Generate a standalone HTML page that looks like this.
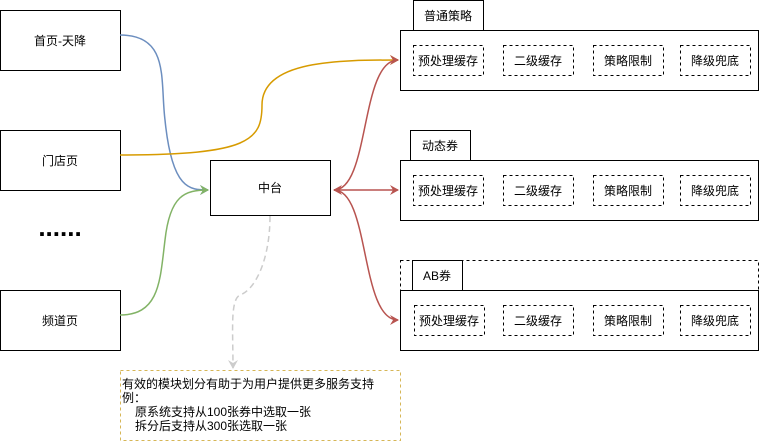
<!DOCTYPE html>
<html><head><meta charset="utf-8"><style>
body{margin:0;background:#fff;width:764px;height:441px;overflow:hidden;font-family:"Liberation Sans","Noto Sans CJK SC",sans-serif;}
</style></head><body>
<svg width="764" height="441" xmlns="http://www.w3.org/2000/svg" font-family="Liberation Sans, Noto Sans CJK SC, sans-serif" font-size="12">
<defs>
<marker id="r" markerWidth="10" markerHeight="10" refX="8" refY="5" orient="auto" markerUnits="userSpaceOnUse"><path d="M0,0 L9,5 L0,10 L3,5z" fill="#b85450"/></marker>
<marker id="rs" markerWidth="10" markerHeight="10" refX="8" refY="5" orient="auto-start-reverse" markerUnits="userSpaceOnUse"><path d="M0,0 L9,5 L0,10 L3,5z" fill="#b85450"/></marker>
<marker id="o" markerWidth="10" markerHeight="10" refX="8" refY="5" orient="auto" markerUnits="userSpaceOnUse"><path d="M0,0 L9,5 L0,10 L3,5z" fill="#d79b00"/></marker>
<marker id="b" markerWidth="10" markerHeight="10" refX="8" refY="5" orient="auto" markerUnits="userSpaceOnUse"><path d="M0,0 L9,5 L0,10 L3,5z" fill="#6c8ebf"/></marker>
<marker id="g" markerWidth="10" markerHeight="10" refX="8" refY="5" orient="auto" markerUnits="userSpaceOnUse"><path d="M0,0 L9,5 L0,10 L3,5z" fill="#82b366"/></marker>
<marker id="gr" markerWidth="12" markerHeight="12" refX="8" refY="5" orient="auto" markerUnits="userSpaceOnUse"><path d="M0,0 L9,5 L0,10 L3,5z" fill="#ccc"/></marker>
</defs>
<g fill="#fff" stroke="#000">
<rect x="0.5" y="10.5" width="120" height="60"/>
<rect x="0.5" y="130.5" width="120" height="60"/>
<rect x="0.5" y="290.5" width="120" height="60"/>
<rect x="210.5" y="160.5" width="120" height="55"/>
</g>
<g text-anchor="middle">
<text x="60" y="45">首页-天降</text>
<text x="60" y="165">门店页</text>
<text x="60" y="325">频道页</text>
<text x="270" y="192">中台</text>
</g>
<text x="60" y="236" text-anchor="middle" font-size="26" font-weight="bold">......</text>
<path d="M120,35 C170,35 160,80 165,120 C172,190 190,190 208,190" fill="none" stroke="#6c8ebf" stroke-width="1.5" marker-end="url(#b)"/>
<path d="M120,315 C160,315 160,280 165,240 C170,195 185,190 208,190" fill="none" stroke="#82b366" stroke-width="1.5" marker-end="url(#g)"/>
<path d="M120,155 C250,155 262,140 262,105 C262,60 340,60 398,60" fill="none" stroke="#d79b00" stroke-width="1.5" marker-end="url(#o)"/>
<path d="M334,190 C370,190 360,60 398,60" fill="none" stroke="#b85450" stroke-width="1.5" marker-start="url(#rs)" marker-end="url(#r)"/>
<path d="M334,190 L398,190" fill="none" stroke="#b85450" stroke-width="1.5" marker-end="url(#r)"/>
<path d="M334,190 C370,190 360,320 398,320" fill="none" stroke="#b85450" stroke-width="1.5" marker-end="url(#r)"/>
<path d="M270,216 C270,260 255,290 240,295 C230,300 233,330 233,368" fill="none" stroke="#ccc" stroke-width="1.5" stroke-dasharray="6,4" marker-end="url(#gr)"/>
<g fill="#fff" stroke="#000">
<rect x="413.5" y="0.5" width="70" height="30"/>
<rect x="400.5" y="30.5" width="358" height="60"/>
<rect x="410.5" y="130.5" width="60" height="30"/>
<rect x="400.5" y="160.5" width="358" height="60"/>
<rect x="400.5" y="260.5" width="358" height="30" stroke-dasharray="3,3"/>
<rect x="412.5" y="260.5" width="50" height="30"/>
<rect x="400.5" y="290.5" width="358" height="60"/>
</g>
<g text-anchor="middle">
<text x="448" y="20">普通策略</text>
<text x="440" y="150">动态券</text>
<text x="437" y="280">AB券</text>
</g>
<g fill="none" stroke="#000" stroke-dasharray="3,3">
<rect x="413.5" y="45.5" width="70" height="30"/><rect x="503.5" y="45.5" width="70" height="30"/><rect x="593.5" y="45.5" width="70" height="30"/><rect x="680.5" y="45.5" width="70" height="30"/>
<rect x="413.5" y="175.5" width="70" height="30"/><rect x="503.5" y="175.5" width="70" height="30"/><rect x="593.5" y="175.5" width="70" height="30"/><rect x="680.5" y="175.5" width="70" height="30"/>
<rect x="414.5" y="305.5" width="70" height="30"/><rect x="503.5" y="305.5" width="70" height="30"/><rect x="593.5" y="305.5" width="70" height="30"/><rect x="680.5" y="305.5" width="70" height="30"/>
</g>
<g text-anchor="middle">
<text x="448" y="65">预处理缓存</text><text x="538" y="65">二级缓存</text><text x="628" y="65">策略限制</text><text x="715" y="65">降级兜底</text>
<text x="448" y="195">预处理缓存</text><text x="538" y="195">二级缓存</text><text x="628" y="195">策略限制</text><text x="715" y="195">降级兜底</text>
<text x="449" y="325">预处理缓存</text><text x="538" y="325">二级缓存</text><text x="628" y="325">策略限制</text><text x="715" y="325">降级兜底</text>
</g>
<rect x="120.5" y="370.5" width="280" height="70" fill="none" stroke="#d6b656" stroke-dasharray="3,3"/>
<text x="122" y="388">有效的模块划分有助于为用户提供更多服务支持</text>
<text x="122" y="402">例：</text>
<text x="135" y="416">原系统支持从100张券中选取一张</text>
<text x="135" y="430">拆分后支持从300张选取一张</text>
</svg>
</body></html>
